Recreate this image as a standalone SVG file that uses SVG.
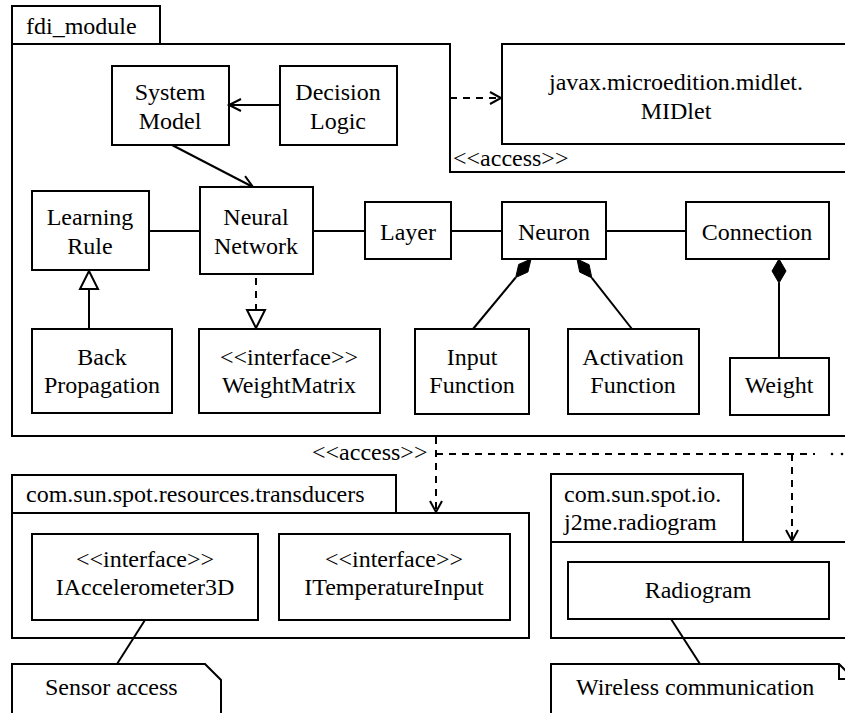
<svg xmlns="http://www.w3.org/2000/svg" width="845" height="713" viewBox="0 0 845 713">
<style>
.b{fill:#fff;stroke:#000;stroke-width:2}
.l{fill:none;stroke:#000;stroke-width:2}
.d{fill:none;stroke:#000;stroke-width:2;stroke-dasharray:7,6}
.k{fill:#000;stroke:#000;stroke-width:1}
text{font-family:'Liberation Serif',serif;font-size:24px;fill:#000}
.c{text-anchor:middle}
</style>
<g id="fdi_module">
<rect class="b" x="12" y="6" width="148" height="38"/>
<text x="26" y="34">fdi_module</text>
<path class="l" d="M12,44 H450 V172 H850 M12,44 V436 H850"/>
</g>
<g id="midlet">
<rect class="b" x="502" y="44" width="360" height="100"/>
<text class="c" x="676" y="90">javax.microedition.midlet.</text>
<text class="c" x="676" y="119">MIDlet</text>
</g>
<g id="system_model"><rect class="b" x="112" y="66" width="117" height="79"/><text class="c" x="170" y="100">System</text><text class="c" x="170" y="129">Model</text></g>
<g id="decision_logic"><rect class="b" x="280" y="66" width="117" height="79"/><text class="c" x="338" y="100">Decision</text><text class="c" x="338" y="129">Logic</text></g>
<g id="learning_rule"><rect class="b" x="32" y="191" width="117" height="79"/><text class="c" x="90" y="225">Learning</text><text class="c" x="90" y="254">Rule</text></g>
<g id="neural_network"><rect class="b" x="200" y="187" width="113" height="87"/><text class="c" x="256" y="225">Neural</text><text class="c" x="256" y="254">Network</text></g>
<g id="layer"><rect class="b" x="365" y="202" width="86" height="57"/><text class="c" x="408" y="240">Layer</text></g>
<g id="neuron"><rect class="b" x="502" y="202" width="104" height="57"/><text class="c" x="554" y="240">Neuron</text></g>
<g id="connection"><rect class="b" x="686" y="202" width="143" height="57"/><text class="c" x="757" y="240">Connection</text></g>
<g id="back_propagation"><rect class="b" x="32" y="329" width="140" height="84"/><text class="c" x="102" y="365">Back</text><text class="c" x="102" y="393">Propagation</text></g>
<g id="weight_matrix"><rect class="b" x="199" y="329" width="181" height="84"/><text class="c" x="289" y="365">&lt;&lt;interface&gt;&gt;</text><text class="c" x="289" y="393">WeightMatrix</text></g>
<g id="input_function"><rect class="b" x="415" y="329" width="114" height="85"/><text class="c" x="472" y="365">Input</text><text class="c" x="472" y="393">Function</text></g>
<g id="activation_function"><rect class="b" x="568" y="329" width="131" height="85"/><text class="c" x="633" y="365">Activation</text><text class="c" x="633" y="393">Function</text></g>
<g id="weight"><rect class="b" x="730" y="358" width="99" height="57"/><text class="c" x="779" y="393">Weight</text></g>
<g id="transducers">
<rect class="b" x="12" y="475" width="384" height="38"/>
<text x="26" y="502">com.sun.spot.resources.transducers</text>
<rect class="b" x="12" y="513" width="517" height="125"/>
</g>
<g id="iaccelerometer"><rect class="b" x="32" y="534" width="226" height="86"/><text class="c" x="145" y="567">&lt;&lt;interface&gt;&gt;</text><text class="c" x="145" y="595">IAccelerometer3D</text></g>
<g id="itemperature"><rect class="b" x="279" y="534" width="231" height="86"/><text class="c" x="394" y="567">&lt;&lt;interface&gt;&gt;</text><text class="c" x="394" y="595">ITemperatureInput</text></g>
<g id="radiogram_pkg">
<rect class="b" x="551" y="474" width="192" height="68"/>
<text x="564" y="502">com.sun.spot.io.</text>
<text x="564" y="530">j2me.radiogram</text>
<rect class="b" x="551" y="542" width="320" height="96"/>
</g>
<g id="radiogram"><rect class="b" x="568" y="562" width="261" height="57"/><text class="c" x="698" y="598">Radiogram</text></g>
<g id="note_sensor"><path class="b" d="M12,720 V664 H205 L221,680 V720"/><text x="45" y="695">Sensor access</text></g>
<g id="note_wireless"><path class="b" d="M551,720 V664 H839 L855,680 V720"/><path class="l" d="M839,664 V679 H855"/><text x="576" y="695">Wireless communication</text></g>
<g id="connectors">
<line class="l" x1="280" y1="105" x2="230" y2="105"/>
<path class="l" d="M241,99 L229,105 L241,111"/>
<line class="l" x1="172" y1="145" x2="252" y2="186.5"/>
<path class="l" d="M239.6,186.8 L253,187 L245.1,176.1"/>
<line class="d" x1="450" y1="98" x2="500" y2="98"/>
<path class="l" d="M490,92 L501,98 L490,104"/>
<text x="453" y="166">&lt;&lt;access&gt;&gt;</text>
<line class="l" x1="149" y1="231" x2="200" y2="231"/>
<line class="l" x1="313" y1="231" x2="365" y2="231"/>
<line class="l" x1="451" y1="231" x2="502" y2="231"/>
<line class="l" x1="606" y1="231" x2="686" y2="231"/>
<line class="l" x1="89" y1="329" x2="89" y2="289"/>
<path class="b" d="M89,271 L98,289 L80,289 Z"/>
<line class="d" x1="256" y1="278" x2="256" y2="310"/>
<path class="b" d="M256,328 L265,310 L247,310 Z"/>
<path class="k" d="M531,259 L527.9,272 L515.7,277.5 L518.7,264.4 Z"/>
<line class="l" x1="515.7" y1="277.5" x2="473" y2="329"/>
<path class="k" d="M577,259 L589.1,264.7 L591.8,277.9 L579.7,272.1 Z"/>
<line class="l" x1="591.8" y1="277.9" x2="632" y2="329"/>
<line class="l" x1="779" y1="283" x2="779" y2="358"/>
<path class="k" d="M779,259 L786,271 L779,283 L772,271 Z"/>
<text x="312" y="460">&lt;&lt;access&gt;&gt;</text>
<line class="d" x1="436" y1="437" x2="436" y2="511"/>
<path class="l" d="M430,501 L436,512 L442,501"/>
<line class="d" x1="436" y1="454" x2="815" y2="454"/>
<line class="d" x1="792" y1="454" x2="792" y2="540"/>
<path class="l" d="M786,530 L792,541 L798,530"/>
<circle cx="832" cy="454" r="1.3" fill="#000"/>
<circle cx="842" cy="454" r="1.3" fill="#000"/>
<line class="l" x1="145" y1="620" x2="117" y2="664"/>
<line class="l" x1="671" y1="619" x2="700" y2="664"/>
</g>
</svg>
